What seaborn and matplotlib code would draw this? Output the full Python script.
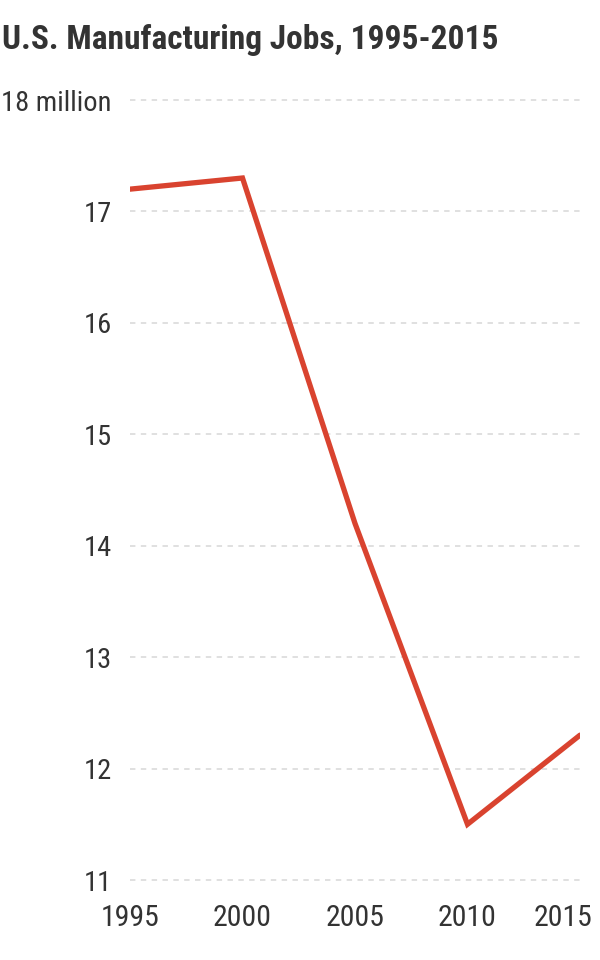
import pandas as pd
import matplotlib.pyplot as plt
import matplotlib.transforms as mtransforms
import seaborn as sns

years = [1995, 2000, 2005, 2010, 2015]
jobs = [17.2, 17.3, 14.2, 11.5, 12.3]
y_ticks = [11, 12, 13, 14, 15, 16, 17, 18]
y_labels = ['11', '12', '13', '14', '15', '16', '17', '18 million']

df = pd.DataFrame({'year': years, 'jobs': jobs})

sns.set_style('white')
plt.rcParams['font.family'] = ['Roboto Condensed', 'DejaVu Sans']

fig = plt.figure(figsize=(6, 9.6), dpi=100)
ax = fig.add_axes([130 / 600, 80 / 960, 450 / 600, 780 / 960])

sns.lineplot(data=df, x='year', y='jobs', ax=ax, color='#d9432f', linewidth=3.8,
             solid_joinstyle='miter', zorder=3)

ax.set_xlim(1995, 2015)
ax.set_ylim(11, 18)
ax.set_xticks(years)
ax.set_xticklabels([str(y) for y in years])
ax.set_yticks(y_ticks)
ax.set_yticklabels(y_labels)

for y in y_ticks:
    ax.axhline(y, color='#dddddd', linewidth=1.3, linestyle=(0, (3, 3)), zorder=1, clip_on=False)

for s in ax.spines.values():
    s.set_visible(False)

ax.tick_params(axis='x', direction='out', length=8.6, width=1.5, color='#555555',
               labelsize=21.5, labelcolor='#333333', pad=9)
ax.tick_params(axis='y', length=0, labelsize=20.5, labelcolor='#333333', pad=13)
ax.set_xlabel('')
ax.set_ylabel('')

# keep the last year label inside the figure
last = ax.get_xticklabels()[-1]
last.set_transform(last.get_transform() + mtransforms.ScaledTranslation(-12 / 72, 0, fig.dpi_scale_trans))

fig.text(2 / 600, 1 - 40 / 960, 'U.S. Manufacturing Jobs, 1995-2015', fontsize=24,
         fontweight='bold', color='#333333', ha='left', va='center')

fig.savefig('out.png', dpi=100, facecolor='white')
